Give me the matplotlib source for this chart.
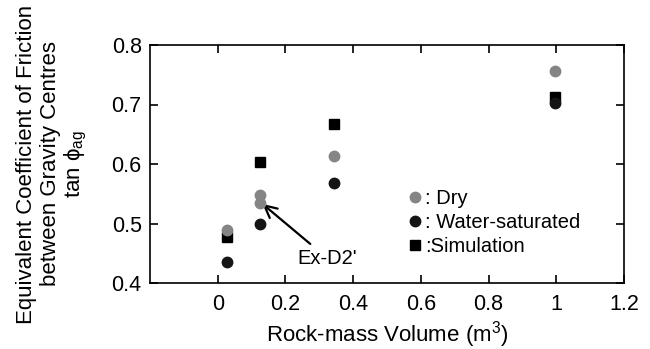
import numpy as np
import matplotlib.pyplot as plt

plt.rcParams['font.family'] = ['Liberation Sans', 'DejaVu Sans']
plt.rcParams['mathtext.fontset'] = 'custom'
plt.rcParams['mathtext.rm'] = 'Liberation Sans'
plt.rcParams['mathtext.it'] = 'Liberation Sans'

# data
vol_dry = [0.026, 0.124, 0.124, 0.342, 0.997]
mu_dry = [0.489, 0.548, 0.535, 0.613, 0.756]
vol_wet = [0.026, 0.124, 0.342, 0.997]
mu_wet = [0.436, 0.500, 0.568, 0.702]
vol_sim = [0.026, 0.124, 0.342, 0.997]
mu_sim = [0.477, 0.604, 0.667, 0.713]

xticks = [0, 0.2, 0.4, 0.6, 0.8, 1.0, 1.2]
xticklabels = ['0', '0.2', '0.4', '0.6', '0.8', '1', '1.2']
yticks = [0.4, 0.5, 0.6, 0.7, 0.8]

fig = plt.figure(figsize=(6.5, 3.49), dpi=100)
ax = fig.add_axes([150/650, 1 - 283/349, 474/650, 238/349])

ax.plot(vol_sim, mu_sim, 's', color='black', ms=7, label=':Simulation', zorder=2)
ax.plot(vol_wet, mu_wet, 'o', color='#151515', ms=7.5, label=': Water-saturated', zorder=3)
ax.plot(vol_dry, mu_dry, 'o', color='#858585', ms=7.5, label=': Dry', zorder=4)

ax.set_xlim(-0.2, 1.2)
ax.set_ylim(0.4, 0.8)
ax.set_xticks(xticks)
ax.set_xticklabels(xticklabels)
ax.set_yticks(yticks)
ax.tick_params(direction='in', top=True, right=True, length=6, width=1.2,
               labelsize=15.5, pad=6)
for s in ax.spines.values():
    s.set_linewidth(1.2)
ax.tick_params(axis='x', pad=8)

ax.set_xlabel('Rock-mass Volume (m$^3$)', fontsize=16, labelpad=3)
ax.set_ylabel('Equivalent Coefficient of Friction\nbetween Gravity Centres\ntan $\\phi_{ag}$',
              fontsize=16, labelpad=16, linespacing=1.15)

ax.annotate("Ex-D2'", xy=(0.132, 0.533), xytext=(0.235, 0.442),
            fontsize=14.5, ha='left', va='center',
            arrowprops=dict(arrowstyle='->', color='black', lw=1.6,
                            mutation_scale=22, shrinkA=2, shrinkB=0))

h, l = ax.get_legend_handles_labels()
ax.legend(h[::-1], l[::-1], loc='upper left', bbox_to_anchor=(0.53, 0.43),
          frameon=False, handlelength=0.6, handletextpad=0.2, labelspacing=0.25,
          fontsize=14.5, borderaxespad=0)

fig.savefig('out.png', dpi=100)
